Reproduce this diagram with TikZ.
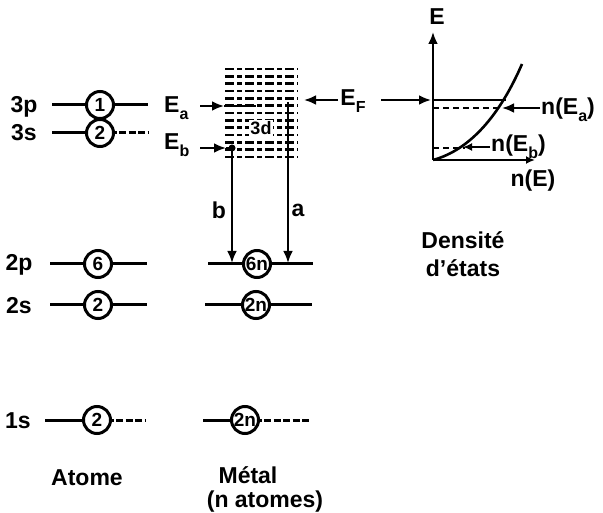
\documentclass[tikz,border=0pt]{standalone}
\usepackage{fontspec}
\setmainfont{Liberation Sans}
\usetikzlibrary{arrows.meta}
\begin{document}
\begin{tikzpicture}[x=1pt,y=-1pt,
  lab/.style={font=\fontsize{23}{25}\selectfont\bfseries, inner sep=0pt},
  orb/.style={circle, draw, line width=3pt, minimum size=27pt, inner sep=0pt, fill=white, font=\fontsize{19}{20}\selectfont\bfseries},
  lev/.style={line width=3pt},
  levd/.style={line width=3pt, dash pattern=on 7pt off 2.5pt},
  band/.style={line width=2.6pt, dash pattern=on 9pt off 3pt on 5pt off 3pt},
  arr/.style={line width=2.6pt, -{Latex[length=12pt,width=10pt]}},
  thin/.style={line width=2.6pt}]
\useasboundingbox (0,0) rectangle (603,513);

% ---- Atom levels ----
\node[lab] (l3p) at (24,107) {3p};
\node[lab] (l3s) at (24,133) {3s};
\node[lab] (l2p) at (19,265) {2p};
\node[lab] (l2s) at (19,306) {2s};
\node[lab] (l1s) at (18,421) {1s};

\coordinate (a3pL) at (52,105); \coordinate (a3pR) at (148,105);
\coordinate (a3sL) at (52,133); \coordinate (a3sR) at (148,133);
\coordinate (a2pL) at (50,264); \coordinate (a2pR) at (147,264);
\coordinate (a2sL) at (50,305); \coordinate (a2sR) at (147,305);
\coordinate (a1sL) at (45,420); \coordinate (a1sR) at (145,420);
\draw[lev] (a3pL) -- (a3pR);
\draw[lev] (a3sL) -- (100,133); \draw[levd] (100,133) -- (a3sR);
\draw[lev] (a2pL) -- (a2pR);
\draw[lev] (a2sL) -- (a2sR);
\draw[lev] (a1sL) -- (97,420); \draw[levd] (97,420) -- (a1sR);
\node[orb] (c3p) at (100,105) {1};
\node[orb] (c3s) at (100,133) {2};
\node[orb] (c2p) at (98,264) {6};
\node[orb] (c2s) at (98,305) {2};
\node[orb] (c1s) at (97,420) {2};

% ---- Metal band ----
\foreach \i in {0,...,12} {
  \draw[band] (225,{69+\i*7.33}) -- (298,{69+\i*7.33});
}
\node[font=\fontsize{18}{19}\selectfont\bfseries, fill=white, inner sep=1pt] (d3) at (261,128) {3d};

% E_a, E_b
\node[lab, anchor=west] (Ea) at (164,108) {E\raisebox{-0.55ex}{\fontsize{16}{17}\selectfont a}};
\node[lab, anchor=west] (Eb) at (164,145) {E\raisebox{-0.55ex}{\fontsize{16}{17}\selectfont b}};
\coordinate (EaS) at (200,106); \coordinate (EaH) at (224,106); \coordinate (EaE) at (256,106);
\coordinate (EbS) at (200,148); \coordinate (EbH) at (226,148); \coordinate (EbE) at (232,148);
\draw[arr] (EaS) -- (EaH);
\draw[thin] (EaH) -- (EaE);
\draw[arr] (EbS) -- (EbH);
\draw[thin] (EbH) -- (EbE);
\fill (EbE) circle (3.5pt);

% metal lower levels
\coordinate (m2pL) at (208,264); \coordinate (m2pR) at (313,264);
\coordinate (m2sL) at (205,305); \coordinate (m2sR) at (312,305);
\coordinate (m1sL) at (203,420); \coordinate (m1sR) at (310,420);
\draw[lev] (m2pL) -- (m2pR);
\draw[lev] (m2sL) -- (m2sR);
\draw[lev] (m1sL) -- (245,420); \draw[levd] (245,420) -- (m1sR);
\node[orb] (m2p) at (257,264) {6n};
\node[orb] (m2s) at (256,305) {2n};
\node[orb] (m1s) at (245,420) {2n};

% transitions
\coordinate (bTop) at (232,148); \coordinate (bBot) at (232,263);
\coordinate (aTop) at (288,102); \coordinate (aBot) at (288,263);
\draw[arr] (bTop) -- (bBot);
\draw[arr] (aTop) -- (aBot);
\node[lab] (lb) at (219,210) {b};
\node[lab] (la) at (298,210) {a};

% E_F
\node[lab] (EF) at (353,101) {E\raisebox{-0.55ex}{\fontsize{16}{17}\selectfont F}};
\coordinate (EFl) at (338,100); \coordinate (EFlt) at (304,100);
\coordinate (EFr) at (381,100); \coordinate (EFrt) at (431,100);
\draw[arr] (EFl) -- (EFlt);
\draw[arr] (EFr) -- (EFrt);

% ---- Density of states ----
\coordinate (O) at (433,160);
\coordinate (Etop) at (433,32);
\coordinate (Xend) at (535,160);
\draw[arr] (O) -- (Etop);
\draw[line width=2.6pt, -{Latex[length=9pt,width=8pt]}] (O) -- (Xend);
\node[lab] (E) at (437,17) {E};
\draw[line width=2.6pt] (O) .. controls (470,150) and (500,115) .. (522,64);
\coordinate (EFa) at (433,100); \coordinate (EFb) at (506,100);
\draw[line width=2.6pt] (EFa) -- (EFb);
\coordinate (da1) at (433,108); \coordinate (da2) at (502,108);
\coordinate (db1) at (433,148); \coordinate (db2) at (465,148);
\draw[line width=2.2pt, dash pattern=on 6pt off 4pt] (da1) -- (da2);
\draw[line width=2.2pt, dash pattern=on 6pt off 4pt] (db1) -- (db2);
\coordinate (nEaS) at (540,108); \coordinate (nEbS) at (490,147);
\draw[arr] (nEaS) -- (da2);
\draw[line width=2.2pt, -{Latex[length=9pt,width=8pt]}] (nEbS) -- (463,147);
\node[lab, anchor=west] (nEa) at (541,110) {n(E\raisebox{-0.55ex}{\fontsize{16}{17}\selectfont a})};
\node[lab, anchor=west] (nEb) at (491,147) {n(E\raisebox{-0.55ex}{\fontsize{16}{17}\selectfont b})};
\node[lab] (nE) at (533,181) {n(E)};

\node[lab] (dens1) at (463,240) {Densité};
\node[lab] (dens2) at (463,268) {d'états};

% ---- captions ----
\node[lab] (atome) at (87,478) {Atome};
\node[lab] (metal) at (248,475) {Métal};
\node[lab] (natomes) at (265,502) {(n atomes)};
\end{tikzpicture}
\end{document}
